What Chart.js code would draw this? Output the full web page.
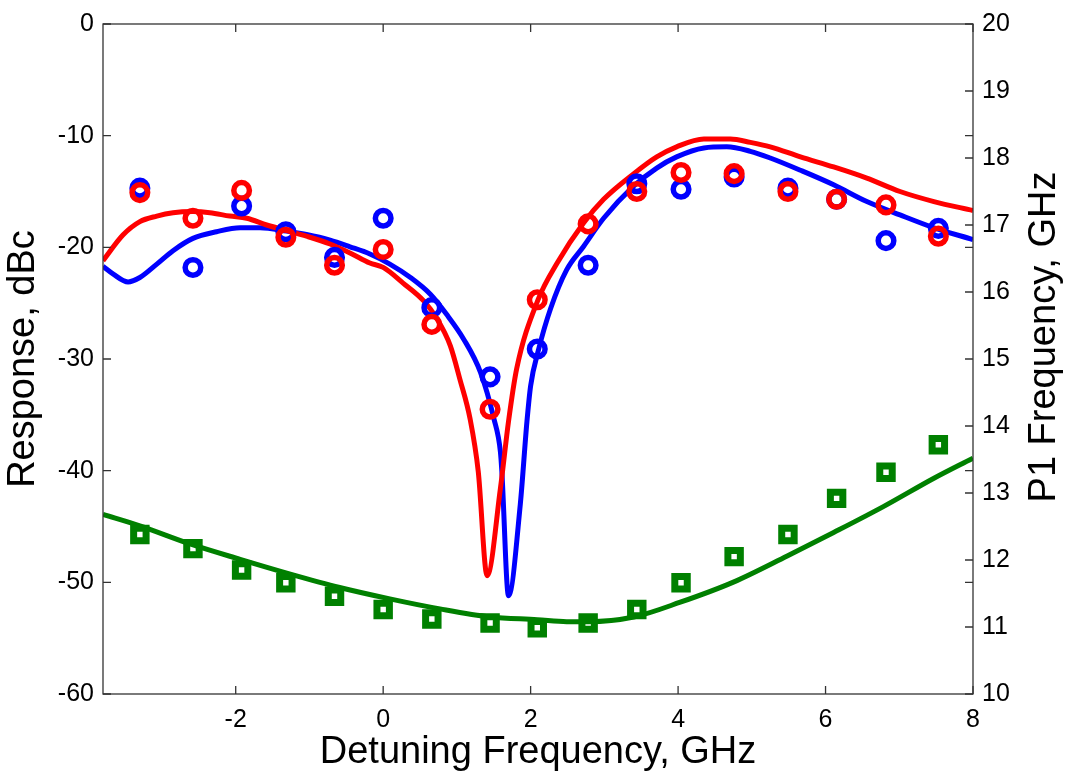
<!DOCTYPE html>
<html>
<head>
<meta charset="utf-8">
<script src="https://cdn.jsdelivr.net/npm/chart.js@4.4.0/dist/chart.umd.min.js"></script>
<style>
  html, body { margin: 0; padding: 0; background: #fff; }
  #wrap { width: 1066px; height: 779px; }
</style>
</head>
<body>
<div id="wrap"><canvas id="plot" width="1066" height="779"></canvas></div>
<script>
"use strict";

// measured points (detuning in GHz)
var measDetuning = [-3.3, -2.58, -1.92, -1.32, -0.66, 0.0, 0.66, 1.45, 2.09, 2.78, 3.44, 4.04, 4.76, 5.49, 6.15, 6.82, 7.53];
var measBlue = [-14.7, -21.8, -16.3, -18.6, -20.9, -17.4, -25.4, -31.6, -29.1, -21.6, -14.3, -14.8, -13.7, -14.7, -15.7, -19.4, -18.3];
var measRed = [-15.1, -17.4, -14.9, -19.1, -21.6, -20.2, -26.9, -34.5, -24.7, -17.9, -15.0, -13.3, -13.4, -15.0, -15.7, -16.2, -19.0];
var measP1 = [12.38, 12.17, 11.85, 11.66, 11.46, 11.26, 11.12, 11.06, 10.99, 11.06, 11.26, 11.66, 12.05, 12.38, 12.92, 13.31, 13.72];

// model curves
var blueFitX = [-3.8, -3.66, -3.46, -3.3, -3.07, -2.85, -2.58, -2.26, -1.94, -1.67, -1.31, -1.04, -0.72, -0.45, -0.18, 0.09, 0.37, 0.64, 0.86, 1.09, 1.32, 1.5, 1.59, 1.61, 1.7, 1.86, 1.95, 2.0, 2.11, 2.27, 2.49, 2.72, 2.99, 3.4, 3.71, 3.98, 4.35, 4.66, 4.98, 5.25, 5.66, 6.11, 6.56, 7.01, 7.47, 8.0];
var blueFitY = [-21.7, -22.4, -23.1, -22.7, -21.5, -20.3, -19.2, -18.6, -18.25, -18.25, -18.55, -18.85, -19.35, -19.95, -20.6, -21.5, -22.7, -24.2, -26.0, -28.2, -31.2, -35.3, -38.3, -40.1, -51.2, -43.0, -35.6, -32.4, -29.1, -25.5, -22.0, -19.9, -17.4, -14.5, -12.9, -11.9, -11.1, -11.0, -11.4, -12.0, -13.1, -14.4, -15.9, -17.1, -18.25, -19.3];
var redFitX = [-3.8, -3.53, -3.3, -3.07, -2.85, -2.58, -2.35, -2.08, -1.85, -1.58, -1.31, -1.04, -0.72, -0.45, -0.18, 0.0, 0.27, 0.55, 0.73, 0.91, 1.04, 1.18, 1.29, 1.41, 1.59, 1.7, 1.81, 2.1, 2.36, 2.72, 2.99, 3.4, 3.71, 3.98, 4.35, 4.71, 4.98, 5.25, 5.66, 6.11, 6.56, 7.01, 7.47, 8.0];
var redFitY = [-21.2, -18.9, -17.7, -17.2, -16.9, -16.8, -16.9, -17.2, -17.4, -18.0, -18.5, -19.0, -19.7, -20.5, -21.4, -21.8, -23.2, -24.8, -26.4, -28.8, -31.8, -35.4, -40.1, -49.4, -41.6, -35.6, -30.9, -24.7, -21.4, -17.8, -15.7, -13.4, -11.9, -11.0, -10.3, -10.3, -10.6, -11.0, -11.9, -12.8, -13.8, -15.0, -15.9, -16.7];
var p1FitX = [-3.8, -3.3, -2.62, -1.94, -1.26, -0.59, 0.09, 0.77, 1.45, 2.09, 2.49, 2.78, 3.4, 4.03, 4.75, 5.48, 6.11, 6.79, 7.47, 8.0];
var p1FitY = [12.68, 12.51, 12.24, 12.01, 11.79, 11.59, 11.42, 11.27, 11.15, 11.11, 11.08, 11.08, 11.15, 11.37, 11.67, 12.06, 12.41, 12.8, 13.22, 13.52];

// tick labels
var xTicks = [-2, 0, 2, 4, 6, 8];
var respTicks = [-60, -50, -40, -30, -20, -10, 0];
var p1Ticks = [10, 11, 12, 13, 14, 15, 16, 17, 18, 19, 20];

var FONT = '"Liberation Sans", Arial, Helvetica, sans-serif';
var RED = '#ff0000', BLUE = '#0000ff', GREEN = '#008000';

function pairs(xs, ys) {
  return xs.map(function (x, i) { return { x: x, y: ys[i] }; });
}

function fixedTicks(list) {
  return function (scale) {
    scale.ticks = list.map(function (v) { return { value: v }; });
  };
}

function curve(xs, ys, color, axis, order) {
  return {
    data: pairs(xs, ys), yAxisID: axis, order: order,
    showLine: true, borderColor: color, borderWidth: 5,
    cubicInterpolationMode: 'monotone', pointRadius: 0, fill: false
  };
}

function markers(ys, color, style, radius, bw, axis, order) {
  return {
    data: pairs(measDetuning, ys), yAxisID: axis, order: order,
    showLine: false, pointStyle: style, pointRadius: radius,
    pointHoverRadius: radius, pointBorderWidth: bw, borderWidth: bw,
    pointBorderColor: color, borderColor: color,
    pointBackgroundColor: 'rgba(0,0,0,0)', backgroundColor: 'rgba(0,0,0,0)'
  };
}

// axes box with inward ticks, plus the right-hand title
var boxPlugin = {
  id: 'box',
  afterDatasetsDraw: function (chart) {
    var ctx = chart.ctx, a = chart.chartArea;
    var sx = chart.scales.x, sy = chart.scales.y, sr = chart.scales.y2;
    var len = 8;
    ctx.save();
    ctx.strokeStyle = '#333';
    ctx.lineWidth = 1.3;
    ctx.strokeRect(a.left, a.top, a.right - a.left, a.bottom - a.top);
    ctx.beginPath();
    sx.ticks.forEach(function (t) {
      var px = sx.getPixelForValue(t.value);
      ctx.moveTo(px, a.bottom); ctx.lineTo(px, a.bottom - len);
      ctx.moveTo(px, a.top); ctx.lineTo(px, a.top + len);
    });
    sy.ticks.forEach(function (t) {
      var py = sy.getPixelForValue(t.value);
      ctx.moveTo(a.left, py); ctx.lineTo(a.left + len, py);
      ctx.moveTo(a.right, py); ctx.lineTo(a.right - len, py);
    });
    sr.ticks.forEach(function (t) {
      var py = sr.getPixelForValue(t.value);
      ctx.moveTo(a.right, py); ctx.lineTo(a.right - len, py);
    });
    ctx.stroke();

    ctx.translate(1045, 337);
    ctx.rotate(-Math.PI / 2);
    ctx.fillStyle = '#000';
    ctx.font = '38px ' + FONT;
    ctx.textAlign = 'center';
    ctx.textBaseline = 'middle';
    ctx.fillText('P1 Frequency, GHz', 0, 0);
    ctx.restore();
  }
};

var tickFont = { family: FONT, size: 25 };
var titleFont = { family: FONT, size: 38 };

var chart = new Chart(document.getElementById('plot').getContext('2d'), {
  type: 'scatter',
  data: {
    datasets: [
      markers(measRed, RED, 'circle', 7.8, 5.5, 'y', 1),
      markers(measBlue, BLUE, 'circle', 7.8, 5.5, 'y', 2),
      markers(measP1, GREEN, 'rect', 8.8, 7, 'y2', 3),
      curve(redFitX, redFitY, RED, 'y', 4),
      curve(blueFitX, blueFitY, BLUE, 'y', 5),
      curve(p1FitX, p1FitY, GREEN, 'y2', 6)
    ]
  },
  options: {
    responsive: false,
    animation: false,
    events: [],
    layout: { padding: { top: 20, right: 0, bottom: 0, left: 0 } },
    plugins: { legend: { display: false }, tooltip: { enabled: false } },
    scales: {
      x: {
        type: 'linear', min: -3.8, max: 8,
        afterBuildTicks: fixedTicks(xTicks),
        afterFit: function (s) { s.height = 85; },
        grid: { display: false, drawTicks: false }, border: { display: false },
        ticks: { color: '#000', font: tickFont, padding: 11, maxRotation: 0 },
        title: { display: true, text: 'Detuning Frequency, GHz', color: '#000',
                 font: titleFont, padding: { top: 0, bottom: 4 } }
      },
      y: {
        position: 'left', min: -60, max: 0,
        afterBuildTicks: fixedTicks(respTicks),
        afterFit: function (s) { s.width = 103; },
        grid: { display: false, drawTicks: false }, border: { display: false },
        ticks: { color: '#000', font: tickFont, padding: 9 },
        title: { display: true, text: 'Response, dBc', color: '#000',
                 font: titleFont, padding: { top: 1, bottom: 0 } }
      },
      y2: {
        position: 'right', min: 10, max: 20,
        afterBuildTicks: fixedTicks(p1Ticks),
        afterFit: function (s) { s.width = 93; },
        grid: { display: false, drawTicks: false }, border: { display: false },
        ticks: { color: '#000', font: tickFont, padding: 9 }
      }
    }
  },
  plugins: [boxPlugin]
});
</script>
</body>
</html>
